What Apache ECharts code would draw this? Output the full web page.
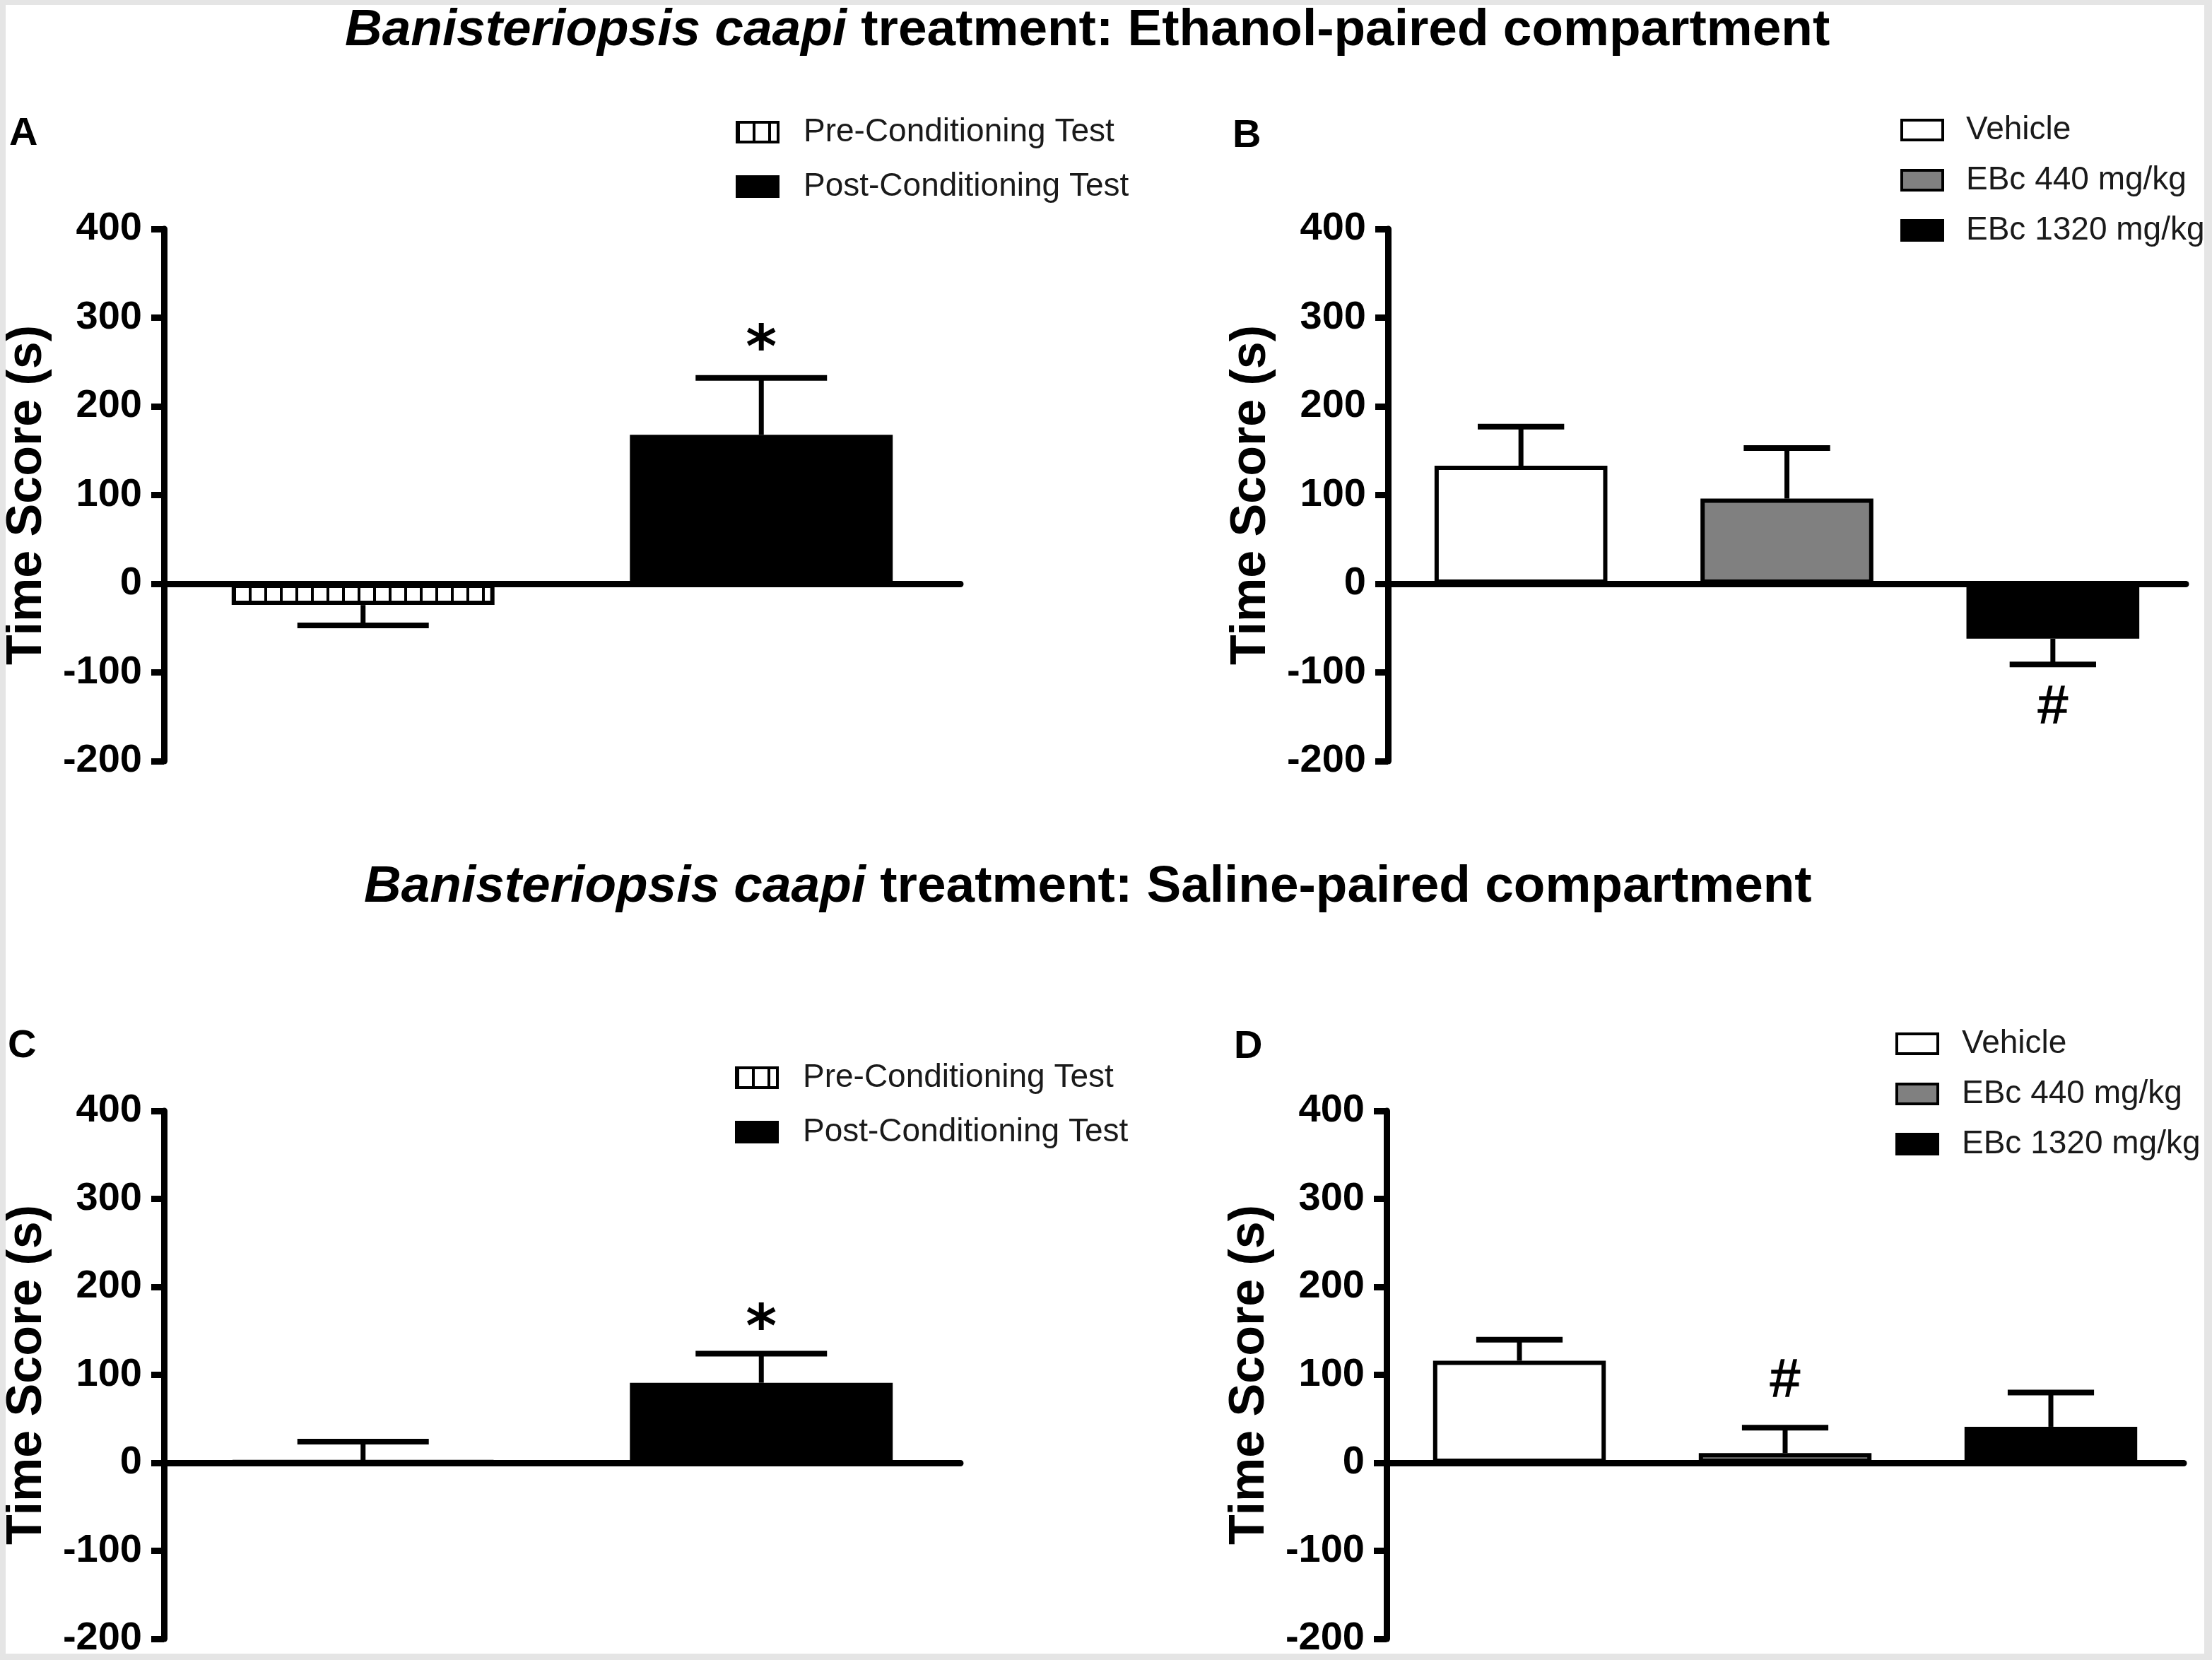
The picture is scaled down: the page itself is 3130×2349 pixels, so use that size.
<!doctype html>
<html>
<head>
<meta charset="UTF-8">
<title>Banisteriopsis caapi treatment</title>
<script src="https://cdn.jsdelivr.net/npm/echarts@6/dist/echarts.min.js"></script>
<style>
  html, body { margin: 0; padding: 0; background: #fff; }
  #chart { position: absolute; left: 0; top: 0; width: 3130px; height: 2349px; }
  #frame {
    position: absolute; left: 0; top: 0; width: 3130px; height: 2349px;
    box-sizing: border-box; pointer-events: none;
    border-style: solid; border-color: #e5e5e5;
    border-width: 7px 11px 9px 8px;
  }
</style>
</head>
<body>
<div id="chart"></div>
<div id="frame"></div>
<script>
// panel A / C : conditioning tests
var groupsAC = ['Pre-Conditioning Test', 'Post-Conditioning Test'];
var meanA = [-24, 168];
var semA = [23, 64];
var signA = ['', '*'];
var signYA = [null, 273];

var meanC = [2, 91];
var semC = [22, 33];
var signC = ['', '*'];
var signYC = [null, 161];

// panel B / D : EBc doses
var groupsBD = ['Vehicle', 'EBc 440 mg/kg', 'EBc 1320 mg/kg'];
var meanB = [133, 96, -62];
var semB = [44, 57, 29];
var signB = ['', '', '#'];
var signYB = [null, null, -140];

var meanD = [116, 11, 41];
var semD = [24, 29, 39];
var signD = ['', '#', ''];
var signYD = [null, 92, null];

var yTicks = [-200, -100, 0, 100, 200, 300, 400];

var FONT = "'Liberation Sans', Arial, sans-serif";

// vertical line hatch for the pre-conditioning bars
var hatch = document.createElement('canvas');
hatch.width = 22; hatch.height = 22;
var hc = hatch.getContext('2d');
hc.fillStyle = '#fff'; hc.fillRect(0, 0, 22, 22);
hc.fillStyle = '#000'; hc.fillRect(0, 0, 4, 22);

var fills = {
  'Pre-Conditioning Test': { image: hatch, repeat: 'repeat' },
  'Post-Conditioning Test': '#000',
  'Vehicle': '#fff',
  'EBc 440 mg/kg': '#808080',
  'EBc 1320 mg/kg': '#000'
};

var grids = [
  { left: 232, top: 324, width: 1127, height: 753 },
  { left: 1964, top: 324, width: 1129, height: 753 },
  { left: 232, top: 1572, width: 1127, height: 747 },
  { left: 1962, top: 1572, width: 1128, height: 747 }
];

var panels = [
  { groups: groupsAC, mean: meanA, sem: semA, sign: signA, signY: signYA, bw: 0.66 },
  { groups: groupsBD, mean: meanB, sem: semB, sign: signB, signY: signYB, bw: 0.65 },
  { groups: groupsAC, mean: meanC, sem: semC, sign: signC, signY: signYC, bw: 0.66 },
  { groups: groupsBD, mean: meanD, sem: semD, sign: signD, signY: signYD, bw: 0.65 }
];

var xAxes = [], yAxes = [], series = [];

panels.forEach(function(p, k) {
  xAxes.push({
    gridIndex: k,
    type: 'category',
    data: p.groups,
    axisLine: { onZero: true, lineStyle: { color: '#000', width: 9 } },
    axisTick: { show: false },
    axisLabel: { show: false },
    splitLine: { show: false }
  });
  yAxes.push({
    gridIndex: k,
    type: 'value',
    min: yTicks[0],
    max: yTicks[yTicks.length - 1],
    interval: 100,
    name: 'Time Score (s)',
    nameLocation: 'middle',
    nameGap: 158,
    nameTextStyle: { fontFamily: FONT, fontSize: 70, fontWeight: 'bold', color: '#000' },
    axisLine: { show: true, lineStyle: { color: '#000', width: 9 } },
    axisTick: { show: true, length: 18, lineStyle: { color: '#000', width: 9 } },
    axisLabel: { fontFamily: FONT, fontSize: 56, fontWeight: 'bold', color: '#000', margin: 31 },
    splitLine: { show: false }
  });

  p.groups.forEach(function(g, i) {
    series.push({
      name: g,
      type: 'bar',
      xAxisIndex: k,
      yAxisIndex: k,
      barWidth: (p.bw * 100) + '%',
      barGap: '-100%',
      itemStyle: { color: fills[g], borderColor: '#000', borderWidth: 6 },
      data: p.groups.map(function(c, j) { return j === i ? p.mean[j] : '-'; }),
      animation: false
    });
  });

  // error bars (one side, away from zero)
  series.push({
    type: 'custom',
    xAxisIndex: k,
    yAxisIndex: k,
    z: 5,
    animation: false,
    data: p.mean.map(function(m, i) { return [i, m, p.sem[i]]; }),
    renderItem: function(params, api) {
      var x = api.value(0), m = api.value(1), s = api.value(2);
      var end = m >= 0 ? m + s : m - s;
      var p0 = api.coord([x, m]);
      var p1 = api.coord([x, end]);
      var half = api.size([1, 0])[0] * p.bw / 4;
      return {
        type: 'group',
        children: [
          { type: 'line', shape: { x1: p0[0], y1: p0[1], x2: p0[0], y2: p1[1] },
            style: { stroke: '#000', lineWidth: 7 } },
          { type: 'line', shape: { x1: p0[0] - half, y1: p1[1], x2: p0[0] + half, y2: p1[1] },
            style: { stroke: '#000', lineWidth: 8 } }
        ]
      };
    }
  });

  // significance marks
  series.push({
    type: 'custom',
    xAxisIndex: k,
    yAxisIndex: k,
    z: 6,
    animation: false,
    data: p.sign.map(function(t, i) { return [i, p.signY[i] == null ? 0 : p.signY[i], t]; }),
    renderItem: function(params, api) {
      var t = p.sign[params.dataIndex];
      if (!t) return null;
      var pt = api.coord([api.value(0), api.value(1)]);
      var star = t === '*';
      return {
        type: 'text',
        x: pt[0],
        y: pt[1] + (star ? 14 : 0),
        style: {
          text: t,
          fill: '#000',
          font: star ? "bold 84px 'DejaVu Sans'" : "76px " + FONT,
          align: 'center',
          verticalAlign: 'middle',
          stroke: star ? null : '#000',
          lineWidth: star ? 0 : 1.5
        }
      };
    }
  });
});

function makeLegend(names, left, top, gap, textGap) {
  return {
    data: names,
    orient: 'vertical',
    left: left,
    top: top,
    padding: 0,
    icon: 'rect',
    itemWidth: 58,
    itemHeight: 28,
    itemGap: gap,
    selectedMode: false,
    itemStyle: { borderColor: '#000', borderWidth: 4 },
    textStyle: { fontFamily: FONT, fontSize: 46, lineHeight: 46, color: '#1a1a1a', padding: [0, 0, 0, textGap] }
  };
}

var titleRich = {
  i: { fontFamily: FONT, fontSize: 73, fontWeight: 'bold', fontStyle: 'italic', color: '#000' },
  n: { fontFamily: FONT, fontSize: 73, fontWeight: 'bold', color: '#000' }
};

var letterStyle = { fontFamily: FONT, fontSize: 56, fontWeight: 'bold', color: '#000' };

var option = {
  backgroundColor: '#fff',
  animation: false,
  title: [
    { text: '{i|Banisteriopsis caapi}{n| treatment: Ethanol-paired compartment}',
      left: 488, top: 7, padding: 0, textStyle: { rich: titleRich } },
    { text: '{i|Banisteriopsis caapi}{n| treatment: Saline-paired compartment}',
      left: 515, top: 1219, padding: 0, textStyle: { rich: titleRich } },
    { text: 'A', left: 13, top: 162, padding: 0, textStyle: letterStyle },
    { text: 'B', left: 1744, top: 165, padding: 0, textStyle: letterStyle },
    { text: 'C', left: 11, top: 1453, padding: 0, textStyle: letterStyle },
    { text: 'D', left: 1746, top: 1454, padding: 0, textStyle: letterStyle }
  ],
  legend: [
    makeLegend(groupsAC, 1041, 164, 31, 31),
    makeLegend(groupsBD, 2689, 161, 25, 28),
    makeLegend(groupsAC, 1040, 1502, 31, 31),
    makeLegend(groupsBD, 2682, 1454, 25, 29)
  ],
  grid: grids,
  xAxis: xAxes,
  yAxis: yAxes,
  series: series
};

var chart = echarts.init(document.getElementById('chart'), null, { renderer: 'canvas' });
chart.setOption(option);
</script>
</body>
</html>
